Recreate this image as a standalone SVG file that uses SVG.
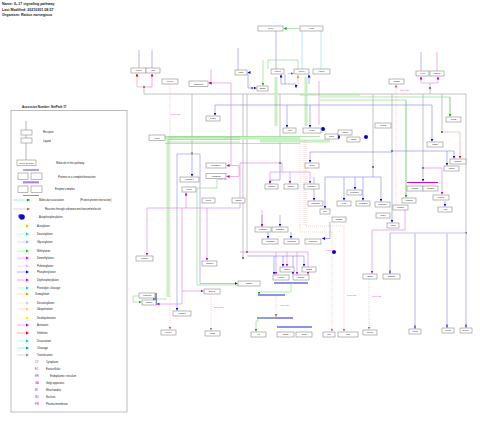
<svg xmlns="http://www.w3.org/2000/svg" width="480" height="422" viewBox="0 0 480 422">
<defs>
<style>
.n rect{fill:#fff;stroke:#8a8a8a;stroke-width:0.6}
.n text{font-family:"Liberation Sans",Arial,sans-serif;font-size:2.4px;fill:#222;text-anchor:middle}
.h{font-family:"Liberation Sans",Arial,sans-serif;font-size:3.6px;fill:#222;font-weight:bold}
.lt{font-family:"Liberation Sans",Arial,sans-serif;font-size:2.6px;fill:#222}
.ab{font-family:"Liberation Sans",Arial,sans-serif;font-size:2.6px;fill:#c000c0}
.pt{font-family:"Liberation Sans",Arial,sans-serif;font-size:2.4px;fill:#e040e0}
.c path,.c line{fill:none}
.gy{stroke:#b4b4b4;stroke-width:0.8}
.gt{stroke:#c8f0c2;stroke-width:3}
.gn{stroke:#7fd67a;stroke-width:0.6}
.bl{stroke:#8080f0;stroke-width:0.6}
.lv{stroke:#c4c4f6;stroke-width:1.2}
.mg{stroke:#e07ee0;stroke-width:0.6}
.rd{stroke:#f0a0a0;stroke-width:0.6}
.cy{stroke:#b2ecf4;stroke-width:1}
.pd{stroke:#e6a0a0;stroke-width:0.5;stroke-dasharray:1 1}
.sq{fill:#777}
</style>
<marker id="aB" viewBox="0 0 4 4" refX="4" refY="2" markerWidth="3" markerHeight="3" markerUnits="userSpaceOnUse" orient="auto"><path d="M0,0L4,2L0,4z" fill="#0000ee"/></marker>
<marker id="aM" viewBox="0 0 4 4" refX="4" refY="2" markerWidth="3" markerHeight="3" markerUnits="userSpaceOnUse" orient="auto"><path d="M0,0L4,2L0,4z" fill="#c000c0"/></marker>
<marker id="aG" viewBox="0 0 4 4" refX="4" refY="2" markerWidth="3" markerHeight="3" markerUnits="userSpaceOnUse" orient="auto"><path d="M0,0L4,2L0,4z" fill="#00b000"/></marker>
<marker id="aR" viewBox="0 0 4 4" refX="4" refY="2" markerWidth="3" markerHeight="3" markerUnits="userSpaceOnUse" orient="auto"><path d="M0,0L4,2L0,4z" fill="#ee0000"/></marker>
<marker id="aP" viewBox="0 0 4 4" refX="4" refY="2" markerWidth="3" markerHeight="3" markerUnits="userSpaceOnUse" orient="auto"><path d="M0,0L4,2L0,4z" fill="#b07070"/></marker>
<marker id="aY" viewBox="0 0 4 4" refX="4" refY="2" markerWidth="3" markerHeight="3" markerUnits="userSpaceOnUse" orient="auto"><path d="M0,0L4,2L0,4z" fill="#f0a030"/></marker>
</defs>
<rect width="480" height="422" fill="#fff"/>

<text class="h" x="2" y="5">Name: IL-17 signaling pathway</text>
<text class="h" x="2" y="10.5">Last Modified: 20210301 08:57</text>
<text class="h" x="2" y="16">Organism: Rattus norvegicus</text>

<g id="legend">
<text class="h" x="22" y="107.5" style="font-size:3px">Accession Number: NetPath 17</text>
<rect x="11" y="110.5" width="116" height="301.5" fill="none" stroke="#a0a0a0" stroke-width="0.7"/>
<line x1="26" y1="121" x2="26" y2="160" stroke="#cfcfcf" stroke-width="1.5"/>
<g class="n"><rect x="21" y="130" width="11" height="5"/><rect x="21" y="138" width="11" height="5"/><rect x="17" y="160" width="19" height="5.5"/><text x="26.5" y="163.6">Gene Symbol</text>
<rect x="18" y="173" width="10" height="6.5"/><rect x="31" y="173" width="11" height="6.5"/>
<rect x="18" y="186" width="10" height="6.5"/><rect x="31" y="186" width="11" height="6.5"/></g>
<text class="lt" x="43" y="133.3">Receptor</text>
<text class="lt" x="43" y="141.6">Ligand</text>
<text class="lt" x="56" y="164">Molecule in this pathway</text>
<line x1="23" y1="170" x2="39" y2="170" stroke="#2020e0" stroke-width="0.8"/>
<text class="lt" x="58" y="177.8">Proteins in a complex/interaction</text>
<line x1="23" y1="182" x2="39" y2="182" stroke="#2020e0" stroke-width="0.8"/>
<line x1="23" y1="183" x2="39" y2="183" stroke="#c040c0" stroke-width="0.6"/>
<text class="lt" x="55" y="190">Enzyme complex</text>
<line x1="23" y1="195.5" x2="39" y2="195.5" stroke="#d040d0" stroke-width="0.8"/>
<line x1="13" y1="200" x2="30" y2="200" stroke="#a0f0d0" stroke-width="1" marker-end="url(#aG)"/>
<text class="lt" x="39" y="201">Molecular association</text>
<text class="lt" x="80" y="201">(Protein-protein interaction)</text>
<line x1="13" y1="209" x2="30" y2="209" stroke="#d8d8d8" stroke-width="1" marker-end="url(#aP)"/>
<text class="lt" x="45" y="210">Reaction through unknown mechanism/molecule</text>
<circle cx="22" cy="217" r="2.8" fill="#1010a0"/><circle cx="20" cy="216" r="2" fill="#0000ff" opacity="0.6"/>
<text class="lt" x="39" y="218">Autophosphorylation</text>
<g stroke-width="1">
<line x1="17" y1="226" x2="28" y2="226" stroke="#ffffa0"/><path d="M26,224.5L29,226L26,227.5z" fill="#d8c800"/>
<line x1="17" y1="234" x2="28" y2="234" stroke="#b0ffff"/><path d="M26,232.5L29,234L26,235.5z" fill="#00d8e0"/>
<line x1="17" y1="242" x2="28" y2="242" stroke="#d8d8ff"/><path d="M26,240.5L29,242L26,243.5z" fill="#a0a0ff"/>
<line x1="17" y1="251" x2="28" y2="251" stroke="#b0ffb0"/><path d="M26,249.5L29,251L26,252.5z" fill="#00e000"/>
<line x1="17" y1="258" x2="28" y2="258" stroke="#ffb0ff"/><path d="M26,256.5L29,258L26,259.5z" fill="#f000f0"/>
<line x1="17" y1="266" x2="28" y2="266" stroke="#ffe0f0"/><path d="M26,264.5L29,266L26,267.5z" fill="#ffb0d0"/>
<line x1="17" y1="272" x2="28" y2="272" stroke="#b0b0ff"/><path d="M26,270.5L29,272L26,273.5z" fill="#0000ff"/>
<line x1="17" y1="280" x2="28" y2="280" stroke="#ffa0ff"/><path d="M26,278.5L29,280L26,281.5z" fill="#e000e0"/>
<line x1="17" y1="288" x2="28" y2="288" stroke="#c0f0ff"/><path d="M26,286.5L29,288L26,289.5z" fill="#20c0e0"/>
<line x1="17" y1="294" x2="28" y2="294" stroke="#f0e0a0"/><path d="M26,292.5L29,294L26,295.5z" fill="#c0b000"/>
<line x1="17" y1="303" x2="28" y2="303" stroke="#f0f0f0"/><path d="M26,301.5L29,303L26,304.5z" fill="#d0d0d0"/>
<line x1="17" y1="309" x2="28" y2="309" stroke="#ffe0c8"/><path d="M26,307.5L29,309L26,310.5z" fill="#ffc090"/>
<line x1="17" y1="318" x2="28" y2="318" stroke="#ffffc0"/><path d="M26,316.5L29,318L26,319.5z" fill="#f0f000"/>
<line x1="17" y1="325" x2="28" y2="325" stroke="#e8b0ff"/><path d="M26,323.5L29,325L26,326.5z" fill="#b000f0"/>
<line x1="17" y1="333" x2="28" y2="333" stroke="#ffb0b0"/><path d="M26,331.5L29,333L26,334.5z" fill="#f00000"/>
<line x1="17" y1="341" x2="28" y2="341" stroke="#b0f4ff"/><path d="M26,339.5L29,341L26,342.5z" fill="#00c8f0"/>
<line x1="17" y1="348" x2="28" y2="348" stroke="#b0e8e0"/><path d="M26,346.5L29,348L26,349.5z" fill="#00a0a0"/>
<line x1="17" y1="355" x2="28" y2="355" stroke="#d8d8d8"/><path d="M26,353.5L29,355L26,356.5z" fill="#909090"/>
</g>
<text class="lt" x="37" y="227">Acetylation</text>
<text class="lt" x="37" y="235">Deacetylation</text>
<text class="lt" x="37" y="243">Glycosylation</text>
<text class="lt" x="37" y="252">Methylation</text>
<text class="lt" x="37" y="259">Demethylation</text>
<text class="lt" x="37" y="267">Palmitoylation</text>
<text class="lt" x="37" y="273">Phosphorylation</text>
<text class="lt" x="37" y="281">Dephosphorylation</text>
<text class="lt" x="37" y="289">Proteolytic cleavage</text>
<text class="lt" x="35" y="295">Sumoylation</text>
<text class="lt" x="37" y="304">Desumoylation</text>
<text class="lt" x="37" y="310">Ubiquitination</text>
<text class="lt" x="37" y="319">Deubiquitination</text>
<text class="lt" x="37" y="326">Activation</text>
<text class="lt" x="37" y="334">Inhibition</text>
<text class="lt" x="37" y="342">Dissociation</text>
<text class="lt" x="37" y="349">Cleavage</text>
<text class="lt" x="37" y="356">Translocation</text>
<text class="ab" x="35" y="363">CY</text><text class="lt" x="46" y="363">Cytoplasm</text>
<text class="ab" x="35" y="370">EC</text><text class="lt" x="46" y="370">Extracellular</text>
<text class="ab" x="35" y="377">ER</text><text class="lt" x="50" y="377">Endoplasmic reticulum</text>
<text class="ab" x="35" y="384">GA</text><text class="lt" x="46" y="384">Golgi apparatus</text>
<text class="ab" x="35" y="391">MI</text><text class="lt" x="46" y="391">Mitochondria</text>
<text class="ab" x="35" y="398">NU</text><text class="lt" x="46" y="398">Nucleus</text>
<text class="ab" x="35" y="405">PM</text><text class="lt" x="46" y="405">Plasma membrane</text>
</g>

<g id="connectors" class="c">
<path class="gy" d="M144 94H466V233M144 87V94M192 94V154M243 94V258M247 94V252M280 94V163M373 94V167M392 94V151M423 94V168M442 94V132M430 83V94"/>
<rect class="sq" x="143" y="86" width="2" height="2"/><rect class="sq" x="191" y="152.5" width="2" height="2"/><rect class="sq" x="246" y="251" width="2" height="2"/><rect class="sq" x="429" y="87" width="2" height="2"/><rect class="sq" x="391" y="150" width="2" height="2"/><rect class="sq" x="441" y="131" width="2" height="2"/><rect class="sq" x="465" y="232" width="2" height="2"/><rect class="sq" x="279" y="162" width="2" height="2"/><rect class="sq" x="242" y="257" width="2" height="2"/><rect class="sq" x="372" y="166" width="2" height="2"/><rect class="sq" x="422" y="167" width="2" height="2"/><rect class="sq" x="251" y="87" width="2" height="2"/>
<line class="gn" x1="300" y1="28.5" x2="283.5" y2="28.5" marker-end="url(#aG)"/>
<path class="lv" d="M276 31V69"/>
<path class="cy" d="M302 31V69M321 31V69"/>
<path class="lv" d="M139 50V68M238 48V70"/><path class="bl" d="M152 50V68"/>
<path class="lv" d="M421 52V71"/><path class="mg" d="M437 52V71"/>
<path class="rd" d="M144 87H137V73.5" marker-end="url(#aR)"/>
<path class="mg" d="M144 87H152V73.5" marker-end="url(#aM)"/>
<path class="mg" d="M430 83H421V76.5" marker-end="url(#aM)"/>
<path class="mg" d="M430 83H438V76.5" marker-end="url(#aM)"/>
<path class="bl" d="M252 88H248V72.5H247.5" marker-end="url(#aB)"/>
<path class="bl" d="M252 88H256.5" marker-end="url(#aB)"/>
<path class="gn" d="M268 69V60H298V69"/>
<path class="gn" d="M263 60V85.5" marker-end="url(#aG)"/>
<path class="gn" d="M288 73.5H293.5" marker-end="url(#aG)"/>
<path class="bl" d="M281 84V74.5" marker-end="url(#aB)"/>
<path class="bl" d="M285 84V74.5M281 84H296V88" marker-end="url(#aB)"/>
<path d="M298 84V75" stroke="#f0b060" stroke-width="0.6" marker-end="url(#aY)"/>
<path class="bl" d="M309 84V74.5" marker-end="url(#aB)"/>
<path class="mg" d="M319 81V125"/>
<path class="gt" d="M276 77V126M306 77V126M165 138H300M168 139V297M260 141H330"/>
<path class="gn" d="M168 137H240M168 139.5H240M168 142H240M165 136.5H320M165 143.5H300M320 97H450V116M320 100H406V197M300 95H360"/>
<path class="gn" d="M156 299H167" marker-start="url(#aG)"/>
<path class="gn" d="M139 296H133V302H141.5" marker-end="url(#aG)"/>
<path class="gn" d="M450 97V116.5" marker-end="url(#aG)"/>
<path class="gn" d="M406 100V197.5" marker-end="url(#aG)"/>
<path class="gn" d="M217 179V188H197V285H238"/>
<path class="bl" d="M215 105H432V141.5" marker-end="url(#aB)"/>
<path class="bl" d="M215 105V115.5" marker-end="url(#aB)"/>
<path class="bl" d="M287 105V127.5" marker-end="url(#aB)"/>
<path class="bl" d="M310 105V127.5" marker-end="url(#aB)"/>
<path d="M192 154H177V310.5" stroke="#a8a8f2" stroke-width="0.8" marker-end="url(#aB)"/>
<path d="M192 154H200V283.5H237.5" stroke="#a8a8f2" stroke-width="0.8" marker-end="url(#aB)"/>
<path class="bl" d="M192 155V176.5" marker-end="url(#aB)"/>
<path class="bl" d="M392 151H454V158.5" marker-end="url(#aB)"/>
<path class="bl" d="M447 151V165.5" marker-end="url(#aB)"/>
<path class="bl" d="M392 151V222.5" marker-end="url(#aB)"/>
<path class="bl" d="M310 152H392"/>
<path class="bl" d="M310 152V162.5" marker-end="url(#aB)"/>
<path class="bl" d="M280 163V180H270V183.5" marker-end="url(#aB)"/>
<path class="bl" d="M373 167V177M325 177H381"/>
<path class="bl" d="M325 177V208.5" marker-end="url(#aB)"/>
<path class="bl" d="M344 177V200.5" marker-end="url(#aB)"/>
<path class="bl" d="M355 177V189.5" marker-end="url(#aB)"/>
<path class="bl" d="M363 177V200.5" marker-end="url(#aB)"/>
<path class="bl" d="M381 177V201.5" marker-end="url(#aB)"/>
<path class="bl" d="M314 177V200.5" marker-end="url(#aB)"/>
<path class="bl" d="M423 168V181.5" marker-end="url(#aB)"/>
<path class="mg" d="M423 168H442V194.5" marker-end="url(#aM)"/>
<path class="bl" d="M445 201V206.5" marker-end="url(#aB)"/>
<path class="rd" d="M442 132H460V158.5" marker-end="url(#aR)"/>
<line x1="407" y1="182.5" x2="438" y2="182.5" stroke="#e000e0" stroke-width="1"/>
<path class="mg" d="M211 69V83H208.5" marker-end="url(#aM)"/>
<path class="mg" d="M231 83H208.5" marker-end="url(#aM)"/>
<path class="mg" d="M231 83V165.5H226.5" marker-end="url(#aM)"/>
<path class="mg" d="M231 165.5H239V176.5H226.5" marker-end="url(#aM)"/>
<path class="mg" d="M147 208V255.5" marker-end="url(#aM)"/>
<path class="mg" d="M147 208H240V163H282V172"/>
<path class="mg" d="M207 208V260.5" marker-end="url(#aM)"/>
<path class="mg" d="M182 208V304H156.5" marker-end="url(#aM)"/>
<path class="mg" d="M182 291H203.5" marker-end="url(#aM)"/>
<path class="mg" d="M186 208V192.5" marker-end="url(#aM)"/>
<path class="mg" d="M270 172H310"/>
<path class="mg" d="M270 172V183.5" marker-end="url(#aM)"/>
<path class="mg" d="M290 172V183.5" marker-end="url(#aM)"/>
<path class="mg" d="M310 172V183.5" marker-end="url(#aM)"/>
<path class="mg" d="M240 252H308V274.5" marker-end="url(#aM)"/>
<path class="mg" d="M276 252V274.5" marker-end="url(#aM)"/>
<path class="mg" d="M287 252V266.5" marker-end="url(#aM)"/>
<path class="mg" d="M297 252V274.5" marker-end="url(#aM)"/>
<path class="bl" d="M247 256H304V266.5" marker-end="url(#aB)"/>
<path class="bl" d="M283 256V266.5" marker-end="url(#aB)"/>
<path class="bl" d="M274 256V274.5" marker-end="url(#aB)"/>
<path class="bl" d="M293 256V274.5" marker-end="url(#aB)"/>
<path class="bl" d="M262 215V226.5" marker-end="url(#aB)"/>
<path class="bl" d="M280 215V226.5" marker-end="url(#aB)"/>
<path class="mg" d="M262 210V226.5" marker-end="url(#aM)"/>
<path class="bl" d="M268 232V238.5" marker-end="url(#aB)"/>
<path class="bl" d="M291 232V238.5" marker-end="url(#aB)"/>
<path class="bl" d="M330 222V238.5H322" marker-end="url(#aB)"/>
<path class="mg" d="M405 210V230H372V273.5" marker-end="url(#aM)"/>
<line x1="274" y1="283" x2="308" y2="283" stroke="#2020d0" stroke-width="1"/>
<line x1="258" y1="295" x2="285" y2="295" stroke="#2020d0" stroke-width="1"/>
<line x1="257" y1="318" x2="293" y2="318" stroke="#2020d0" stroke-width="1"/>
<line x1="277" y1="327" x2="312" y2="327" stroke="#2020d0" stroke-width="1"/>
<line x1="156" y1="293" x2="156" y2="305" stroke="#2020d0" stroke-width="1"/>
<path class="gn" d="M291 283V292H259V294.5" marker-end="url(#aG)"/>
<path class="gn" d="M258 318V321H256V331.5" marker-end="url(#aG)"/>
<path class="gn" d="M258 318H275"/>
<path class="lv" d="M390 233H466M390 233V273.5M415 233V328.5M447 233V327.5M466 233V327.5"/>
<path d="M390 270.5V273.5M415 325.5V328.5M447 324.5V327.5M466 324.5V327.5" stroke="#0000ee" stroke-width="1"/>
<path class="pd" d="M170 84V329.5" marker-end="url(#aP)"/>
<path class="pd" d="M211 294V330.5" marker-end="url(#aP)"/>
<path class="pd" d="M276 296V317" marker-end="url(#aP)"/>
<path class="pd" d="M396 205V84.5" marker-end="url(#aP)"/>
<path class="pd" d="M300 140V232H332V331.5" marker-end="url(#aP)"/>
<path class="pd" d="M306 140V226H344V331.5" marker-end="url(#aP)"/>
<path class="pd" d="M369 279V329.5" marker-end="url(#aP)"/>
<path class="pd" d="M304 140V226"/>
<circle cx="323" cy="129" r="2" fill="#0000cc"/><circle cx="338" cy="137" r="2" fill="#0000cc"/><circle cx="366" cy="137" r="2" fill="#0000cc"/><circle cx="334" cy="252" r="2" fill="#0000cc"/>
</g>
<text class="pt" x="171" y="115">PTM site</text>
<text class="pt" x="214" y="308">PTM site</text>
<text class="pt" x="280" y="306">PTM site</text>
<text class="pt" x="326" y="251">PTM site</text>
<text class="pt" x="347" y="296">PTM site</text>
<text class="pt" x="372" y="297">PTM site</text>
<text class="pt" x="400" y="91">PTM site</text>
<text class="pt" x="218" y="180">PTM site</text>

<g id="nodes" class="n">
<g id="n1"><rect x="258" y="26" width="25" height="5"/><text x="270.5" y="29.4">Il17a</text></g>
<g id="n2"><rect x="300" y="26" width="23" height="5"/><text x="311.5" y="29.4">Il17f</text></g>
<g id="n3"><rect x="131" y="68" width="15" height="5"/><text x="138.5" y="71.4">Il17rb</text></g>
<g id="n4"><rect x="146" y="68" width="14" height="5"/><text x="153" y="71.4">Il25</text></g>
<g id="n5"><rect x="162" y="79" width="16" height="5"/><text x="170" y="82.4">Cxcl1</text></g>
<g id="n6"><rect x="189" y="81" width="19" height="5.5"/><text x="198.5" y="84.6">Rps6ka1</text></g>
<g id="n7"><rect x="235" y="70" width="12" height="5"/><text x="241" y="73.4">Jak1</text></g>
<g id="n8"><rect x="271" y="69" width="13" height="5"/><text x="277.5" y="72.4">Il17ra</text></g>
<g id="n9"><rect x="294" y="69" width="15" height="5"/><text x="301.5" y="72.4">Il17rc</text></g>
<g id="n10"><rect x="313" y="69" width="17" height="5"/><text x="321.5" y="72.4">Il17re</text></g>
<g id="n11"><rect x="257" y="86" width="11" height="5"/><text x="262.5" y="89.4">Stat3</text></g>
<g id="n12"><rect x="389" y="79" width="15" height="5"/><text x="396.5" y="82.4">Ptgs2</text></g>
<g id="n13"><rect x="416" y="71" width="13" height="5"/><text x="422.5" y="74.4">Il4ra</text></g>
<g id="n14"><rect x="430" y="71" width="14" height="5"/><text x="437" y="74.4">Il13ra1</text></g>
<g id="n15"><rect x="206" y="116" width="14" height="5"/><text x="213" y="119.4">Rac1</text></g>
<g id="n16"><rect x="149" y="135" width="16" height="5.5"/><text x="157" y="138.6">Il17d</text></g>
<g id="n17"><rect x="206" y="163" width="20" height="5"/><text x="216" y="166.4">Map3k14</text></g>
<g id="n18"><rect x="206" y="173.5" width="20" height="5"/><text x="216" y="176.9">Traf3ip2</text></g>
<g id="n19"><rect x="180" y="177" width="19" height="5"/><text x="189.5" y="180.4">Mapk14</text></g>
<g id="n20"><rect x="182" y="187" width="14" height="5"/><text x="189" y="190.4">Pak1</text></g>
<g id="n21"><rect x="202" y="198" width="13" height="5"/><text x="208.5" y="201.4">Rela</text></g>
<g id="n22"><rect x="232" y="198" width="13" height="5"/><text x="238.5" y="201.4">Nfkb1</text></g>
<g id="n23"><rect x="283" y="128" width="13" height="5"/><text x="289.5" y="131.4">Act1</text></g>
<g id="n24"><rect x="303" y="128" width="18" height="5"/><text x="312" y="131.4">Traf6</text></g>
<g id="n25"><rect x="325" y="134" width="13" height="5"/><text x="331.5" y="137.4">Tak1</text></g>
<g id="n26"><rect x="338" y="130" width="14" height="5"/><text x="345" y="133.4">Tab2</text></g>
<g id="n27"><rect x="347" y="137" width="13" height="5"/><text x="353.5" y="140.4">Tab3</text></g>
<g id="n28"><rect x="375" y="123" width="16" height="5"/><text x="383" y="126.4">Traf2</text></g>
<g id="n29"><rect x="446" y="117" width="15" height="5"/><text x="453.5" y="120.4">Traf5</text></g>
<g id="n30"><rect x="427" y="142" width="16" height="5"/><text x="435" y="145.4">Ikbkb</text></g>
<g id="n31"><rect x="450" y="159" width="16" height="5"/><text x="458" y="162.4">Nfkbia</text></g>
<g id="n32"><rect x="444" y="166" width="15" height="5"/><text x="451.5" y="169.4">Ikbkg</text></g>
<g id="n33"><rect x="407" y="186" width="16" height="5"/><text x="415" y="189.4">Pik3r1</text></g>
<g id="n34"><rect x="423" y="186" width="15" height="5"/><text x="430.5" y="189.4">Pik3ca</text></g>
<g id="n35"><rect x="433" y="195" width="16" height="5"/><text x="441" y="198.4">Pdpk1</text></g>
<g id="n36"><rect x="438" y="207" width="14" height="5"/><text x="445" y="210.4">Akt1</text></g>
<g id="n37"><rect x="402" y="198" width="14" height="5"/><text x="409" y="201.4">Mapk3</text></g>
<g id="n38"><rect x="393" y="205" width="15" height="5"/><text x="400.5" y="208.4">Mapk1</text></g>
<g id="n39"><rect x="375" y="202" width="15" height="5"/><text x="382.5" y="205.4">Map2k1</text></g>
<g id="n39b"><rect x="356" y="201" width="14" height="5"/><text x="363" y="204.4">Map2k2</text></g>
<g id="n40"><rect x="376" y="213" width="14" height="5"/><text x="383" y="216.4">Raf1</text></g>
<g id="n41"><rect x="305" y="163" width="14" height="5"/><text x="312" y="166.4">Chuk</text></g>
<g id="n42"><rect x="265" y="184" width="13" height="5"/><text x="271.5" y="187.4">Mapk8</text></g>
<g id="n43"><rect x="284" y="184" width="14" height="5"/><text x="291" y="187.4">Mapk9</text></g>
<g id="n44"><rect x="304" y="184" width="15" height="5"/><text x="311.5" y="187.4">Map2k4</text></g>
<g id="n45"><rect x="308" y="201" width="15" height="5"/><text x="315.5" y="204.4">Map2k7</text></g>
<g id="n46"><rect x="320" y="209" width="10" height="5"/><text x="325" y="212.4">Jun</text></g>
<g id="n47"><rect x="337" y="201" width="14" height="5"/><text x="344" y="204.4">Fos</text></g>
<g id="n48"><rect x="347" y="190" width="15" height="5"/><text x="354.5" y="193.4">Map3k1</text></g>
<g id="n49"><rect x="332" y="217" width="14" height="5"/><text x="339" y="220.4">Gsk3b</text></g>
<g id="n50"><rect x="136" y="256" width="17" height="5"/><text x="144.5" y="259.4">Cebpb</text></g>
<g id="n51"><rect x="202" y="261" width="15" height="5"/><text x="209.5" y="264.4">Cebpd</text></g>
<g id="n52"><rect x="139" y="293" width="16" height="5"/><text x="147" y="296.4">Mmp13</text></g>
<g id="n53"><rect x="142" y="300" width="14" height="5"/><text x="149" y="303.4">Timp1</text></g>
<g id="n54"><rect x="173" y="311" width="18" height="5"/><text x="182" y="314.4">Mapk1</text></g>
<g id="n55"><rect x="204" y="289" width="16" height="5"/><text x="212" y="292.4">Elavl1</text></g>
<g id="n56"><rect x="161" y="330" width="15" height="5"/><text x="168.5" y="333.4">Cxcl1</text></g>
<g id="n57"><rect x="205" y="331" width="15" height="5"/><text x="212.5" y="334.4">Csf3</text></g>
<g id="n58"><rect x="255" y="227" width="16" height="5"/><text x="263" y="230.4">Map3k4</text></g>
<g id="n59"><rect x="272" y="227" width="16" height="5"/><text x="280" y="230.4">Map3k8</text></g>
<g id="n60"><rect x="262" y="239" width="16" height="5"/><text x="270" y="242.4">Map2k3</text></g>
<g id="n61"><rect x="284" y="239" width="15" height="5"/><text x="291.5" y="242.4">Map2k6</text></g>
<g id="n62"><rect x="305" y="239" width="16" height="5"/><text x="313" y="242.4">Mapk10</text></g>
<g id="n63"><rect x="280" y="267" width="14" height="5"/><text x="287" y="270.4">Srsf1</text></g>
<g id="n64"><rect x="302" y="267" width="14" height="5"/><text x="309" y="270.4">Srsf2</text></g>
<g id="n65"><rect x="273" y="275" width="16" height="5"/><text x="281" y="278.4">Hsp90</text></g>
<g id="n66"><rect x="293" y="275" width="16" height="5"/><text x="301" y="278.4">Cdc37</text></g>
<g id="n67"><rect x="238" y="281" width="22" height="5"/><text x="249" y="284.4">Ikbkb</text></g>
<g id="n68"><rect x="251" y="332" width="15" height="5"/><text x="258.5" y="335.4">Il6</text></g>
<g id="n69"><rect x="277" y="332" width="17" height="5"/><text x="285.5" y="335.4">Ccl20</text></g>
<g id="n70"><rect x="296" y="332" width="16" height="5"/><text x="304" y="335.4">Ccl2</text></g>
<g id="n71"><rect x="323" y="332" width="12" height="5"/><text x="329" y="335.4">Tnf</text></g>
<g id="n72"><rect x="338" y="332" width="20" height="5"/><text x="348" y="335.4">Il1b</text></g>
<g id="n73"><rect x="387" y="223" width="12" height="5"/><text x="393" y="226.4">Jak2</text></g>
<g id="n74"><rect x="363" y="274" width="14" height="5"/><text x="370" y="277.4">Stat1</text></g>
<g id="n75"><rect x="383" y="274" width="17" height="5"/><text x="391.5" y="277.4">Stat5a</text></g>
<g id="n76"><rect x="363" y="330" width="14" height="5"/><text x="370" y="333.4">Ccl11</text></g>
<g id="n77"><rect x="409" y="329" width="12" height="5"/><text x="415" y="332.4">Lcn2</text></g>
<g id="n78"><rect x="442" y="328" width="12" height="5"/><text x="448" y="331.4">Muc5</text></g>
<g id="n79"><rect x="460" y="328" width="12" height="5"/><text x="466" y="331.4">Defb4</text></g>
</g>
</svg>
